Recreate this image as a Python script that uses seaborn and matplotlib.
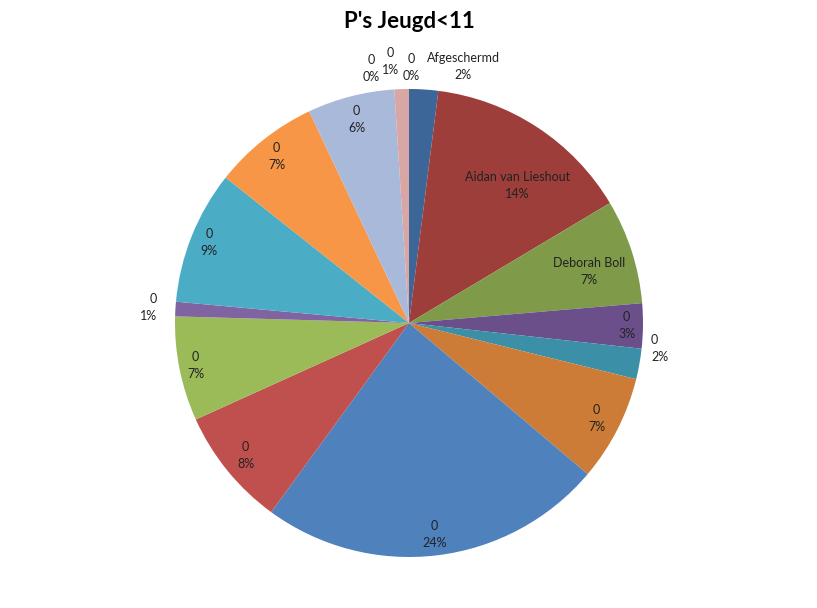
import numpy as np
import matplotlib
matplotlib.use("Agg")
import matplotlib.pyplot as plt
import seaborn as sns

# ==============================
# Data
# ==============================
names = ["Afgeschermd", "Aidan van Lieshout", "Deborah Boll", "0", "0", "0", "0",
         "0", "0", "0", "0", "0", "0", "0", "0", "0"]
shares = [2.0, 14.4, 7.2, 3.1, 2.1, 7.3, 23.8, 8.2, 7.2, 1.0, 9.2, 7.3, 6.0, 1.0, 0.0, 0.0]
colors = ["#3C6698", "#9E3E3B", "#7F9B49", "#6A4F8A", "#3B90A7", "#CD7C37",
          "#4F81BD", "#C0504D", "#9BBB59", "#8064A2", "#4BACC6", "#F79646",
          "#A9B9D9", "#D7A6A5", "#C3D69B", "#B3A2C7"]

# label placement: radius (fraction of pie radius), angle shift (deg), alignment
label_r = [1.12, 0.75, 0.80, 0.93, 1.04, 0.90, 0.91, 0.90, 0.93, 1.08, 0.92, 0.91, 0.90, 1.12, 1.10, 1.09]
label_shift = [8.3, 5, 2, 0, -4, 0, 0, 0, 0, 0, 0, 0, 0, -2.2, -8.5, 0.5]
label_ha = ["center"] * 4 + ["left"] + ["center"] * 4 + ["right"] + ["center"] * 6

# ==============================
# Plot
# ==============================
sns.set_style("white")
plt.rcParams["font.family"] = ["Lato", "DejaVu Sans"]

fig = plt.figure(figsize=(8.17, 6.08), dpi=100)
R = 234
ax = fig.add_axes([(409 - R) / 817, (608 - 323 - R) / 608, 2 * R / 817, 2 * R / 608])

wedges, _ = ax.pie(shares, colors=colors, startangle=90, counterclock=False,
                   radius=1.0, wedgeprops=dict(linewidth=0))
ax.set_xlim(-1, 1)
ax.set_ylim(-1, 1)
ax.set_aspect("equal")
ax.axis("off")

total = sum(shares)
start = 0.0
for i, (nm, s) in enumerate(zip(names, shares)):
    mid = start + s / total * 360 / 2
    start += s / total * 360
    ang = np.deg2rad(mid + label_shift[i])
    x = label_r[i] * np.sin(ang)
    y = label_r[i] * np.cos(ang)
    ax.text(x, y, f"{nm}\n{s:.0f}%", ha=label_ha[i], va="center",
            fontsize=9, color="#222222", linespacing=1.5)

fig.text(409 / 817, 1 - 22 / 608, "P's Jeugd<11", ha="center", va="center",
         fontsize=16, fontweight="bold", color="black")

fig.savefig("out.png", dpi=100)
